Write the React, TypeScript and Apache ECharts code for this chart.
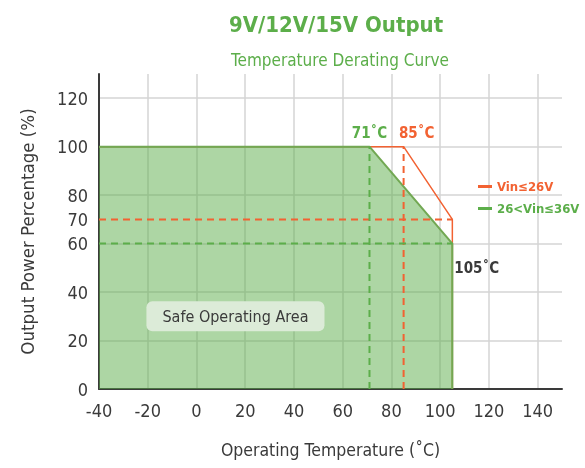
import React, { useEffect, useRef } from "react";
import * as echarts from "echarts";

const FONT = "'Liberation Sans Narrow', 'DejaVu Sans Condensed', 'Roboto', sans-serif";

const xTicks = [-40, 150, 20];
const yLabelValues = [0, 20, 40, 60, 70, 80, 100, 120];

const lowVinTemp = [-40, 85, 105, 105];
const lowVinPower = [100, 100, 70, 0];
const highVinTemp = [-40, 71, 105, 105];
const highVinPower = [100, 100, 60, 0];

const greenDashV = [[71, 0], [71, 100]];
const greenDashH = [[-40, 60], [105, 60]];
const orangeDashV = [[85, 0], [85, 100]];
const orangeDashH = [[-40, 70], [105, 70]];

const annotations = [
  { text: "71˚C", at: [71, 100], color: "green" },
  { text: "85˚C", at: [85, 100], color: "orange" },
  { text: "105˚C", at: [105, 60], color: "dark" },
];

const safeArea = [16, 30];

const GREEN = "#5cae4a";
const GREEN_LINE = "#72a853";
const ORANGE = "#f26232";
const DARK = "#3a3a3a";

export default function App() {
  const ref = useRef<HTMLDivElement>(null);
  useEffect(() => {
    const chart = echarts.init(ref.current!, null, { renderer: "svg" });
    const pts = (xs: number[], ys: number[]) => xs.map((x, i) => [x, ys[i]]);
    const colorOf: Record<string, string> = { green: GREEN, orange: ORANGE, dark: DARK };
    const annData = annotations.map((a) => {
      const isDark = a.color === "dark";
      const isOrange = a.color === "orange";
      return {
        value: a.at,
        label: {
          show: true,
          formatter: a.text,
          position: isDark ? "bottom" : "top",
          align: isDark ? "left" : "center",
          offset: isDark ? [2, 12] : isOrange ? [13, -1] : [0, -1],
          color: colorOf[a.color],
          fontSize: 15,
          fontWeight: "bold",
          fontFamily: FONT,
        },
      };
    });
    const dashed = (data: number[][], color: string) => ({
      type: "line",
      data,
      symbol: "none",
      silent: true,
      lineStyle: { color, width: 2, type: [7, 5], opacity: 1 },
      z: 5,
    });
    chart.setOption({
      animation: false,
      textStyle: { fontFamily: FONT },
      title: [
        { text: "9V/12V/15V Output", left: 331, top: 8, textAlign: "center", textStyle: { color: GREEN, fontSize: 22, fontWeight: "bold", fontFamily: FONT } },
        { text: "Temperature Derating Curve", left: 335, top: 46, textAlign: "center", textStyle: { color: GREEN, fontSize: 17, fontWeight: "normal", fontFamily: FONT } },
      ],
      legend: {
        orient: "vertical",
        left: 473,
        top: 175,
        itemWidth: 14,
        itemHeight: 3,
        itemGap: 9,
        icon: "rect",
        data: [
          { name: "Vin≤26V", textStyle: { color: ORANGE } },
          { name: "26<Vin≤36V", textStyle: { color: GREEN } },
        ],
        textStyle: { fontSize: 13, fontWeight: "bold", fontFamily: FONT },
      },
      grid: { left: 99, right: 23, top: 74, bottom: 79 },
      xAxis: {
        type: "value",
        min: xTicks[0],
        max: xTicks[1],
        interval: xTicks[2],
        name: "Operating Temperature (˚C)",
        nameLocation: "middle",
        nameGap: 52,
        nameTextStyle: { color: DARK, fontSize: 17.5, fontFamily: FONT },
        axisLine: { lineStyle: { color: DARK, width: 2 } },
        axisTick: { show: false },
        axisLabel: { color: DARK, fontSize: 18, margin: 12, showMaxLabel: false, fontFamily: FONT },
        splitLine: { show: true, showMaxLine: false, lineStyle: { color: "#d4d4d4", width: 1.5 } },
      },
      yAxis: {
        type: "value",
        min: 0,
        max: 130,
        interval: 10,
        name: "Output Power Percentage (%)",
        nameLocation: "middle",
        nameGap: 62,
        nameTextStyle: { color: DARK, fontSize: 18.5, fontFamily: FONT },
        axisLine: { show: true, onZero: false, lineStyle: { color: DARK, width: 2 } },
        axisTick: { show: false },
        axisLabel: {
          color: DARK,
          fontSize: 18,
          margin: 11,
          fontFamily: FONT,
          formatter: (v: number) => (yLabelValues.includes(v) ? String(v) : ""),
        },
        splitLine: { show: true, lineStyle: { color: ["#d4d4d4", "rgba(0,0,0,0)"], width: 1.5 } },
      },
      series: [
        {
          name: "Vin≤26V",
          type: "line",
          data: pts(lowVinTemp, lowVinPower),
          symbol: "none",
          color: ORANGE,
          lineStyle: { color: ORANGE, width: 1.5 },
          z: 2,
        },
        dashed(orangeDashH, ORANGE),
        dashed(orangeDashV, ORANGE),
        {
          name: "26<Vin≤36V",
          type: "line",
          data: pts(highVinTemp, highVinPower),
          symbol: "none",
          color: GREEN,
          lineStyle: { color: GREEN_LINE, width: 2 },
          areaStyle: { color: GREEN, opacity: 0.5 },
          z: 4,
        },
        dashed(greenDashH, GREEN),
        dashed(greenDashV, GREEN),
        {
          type: "scatter",
          data: annData,
          symbolSize: 0,
          itemStyle: { opacity: 1 },
          silent: true,
          z: 7,
        },
        {
          type: "scatter",
          data: [safeArea],
          symbolSize: 0,
          itemStyle: { opacity: 1 },
          silent: true,
          z: 6,
          label: {
            show: true,
            position: "inside",
            formatter: "Safe Operating Area",
            color: DARK,
            fontSize: 16,
            fontFamily: FONT,
            backgroundColor: "#dcebd8",
            borderRadius: 6,
            padding: [7, 16, 7, 16],
          },
        },
      ],
    });
    return () => chart.dispose();
  }, []);
  return <div ref={ref} style={{ position: "fixed", left: 0, top: 0, width: 585, height: 468 }} />;
}
